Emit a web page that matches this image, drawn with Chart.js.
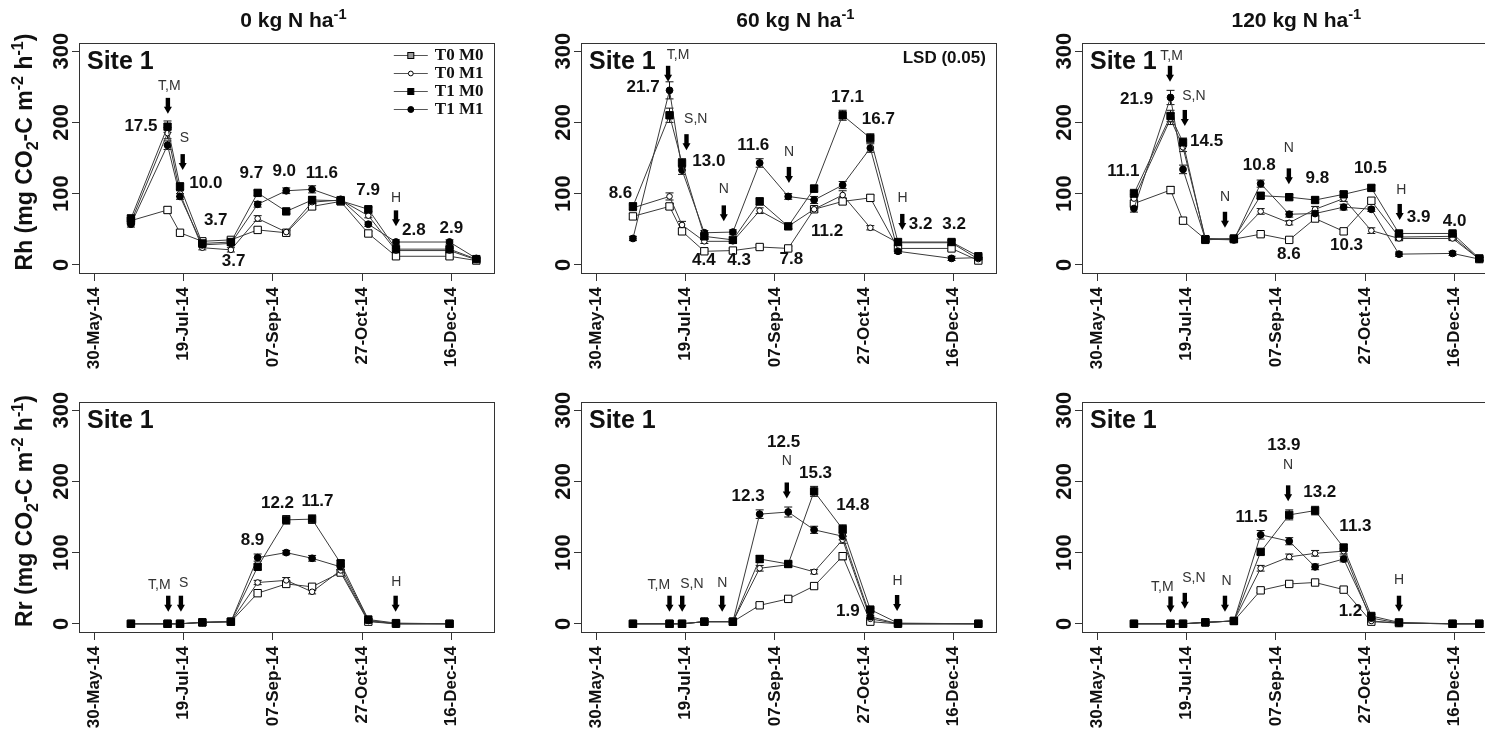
<!DOCTYPE html>
<html>
<head>
<meta charset="utf-8">
<script src="https://cdn.jsdelivr.net/npm/chart.js@4/dist/chart.umd.min.js"></script>
<style>
  html, body { margin: 0; padding: 0; background: #fff; overflow: hidden; width: 1485px; height: 729px; }
  canvas { position: absolute; }
</style>
</head>
<body>
<script>
// Rh / Rr por tratamiento, Site 1, 2014

const dateTicks = [0, 50, 100, 150, 200];
const dateLabels = ['30-May-14', '19-Jul-14', '07-Sep-14', '27-Oct-14', '16-Dec-14'];
const yTicks = [0, 100, 200, 300];
// dias desde 30-May-14
const sampleDays = [20.5, 41, 48, 60.5, 76.5, 91.5, 107.5, 122, 138, 153.5, 169, 199, 214];
const seriesNames = ['T0 M0', 'T0 M1', 'T1 M0', 'T1 M1'];
const rateTitles = ['0 kg N ha', '60 kg N ha', '120 kg N ha'];

// ---- Rh, 0 kg N
const rh0_T0M0 = [62, 77, 45, 33, 35, 49, 45, 82, 89, 44, 12, 12, 6];
const rh0_T0M1 = [60, 185, 100, 24, 21, 65, 46, 88, 91, 69, 20, 20, 7];
const rh0_T1M0 = [65, 194, 110, 30, 32, 101, 75, 91, 90, 78, 22, 22, 8];
const rh0_T1M1 = [57, 168, 96, 28, 30, 85, 104, 106, 92, 57, 32, 32, 9];
const rh0Err = [
  [4, 4, 3, 3, 3, 3, 3, 4, 4, 3, 3, 3, 2],
  [4, 8, 4, 3, 3, 4, 3, 4, 4, 3, 3, 3, 2],
  [5, 8, 5, 3, 3, 4, 3, 5, 4, 3, 3, 3, 2],
  [4, 6, 4, 3, 3, 4, 4, 5, 4, 3, 3, 3, 2]
];
const rh0Notes = [['17.5', 26.1, 194], ['10.0', 62.5, 115], ['3.7', 68, 63], ['3.7', 78, 5], ['9.7', 88, 129],
  ['9.0', 106.4, 131], ['11.6', 127.5, 129], ['7.9', 153.4, 105], ['2.8', 179, 49], ['2.9', 200, 51]];
const rh0Events = [['T,M', 42, 251], ['S', 50.4, 178], ['H', 169, 94]];
const rh0Arrows = [[41.2, 212], [49.5, 133], [169, 54]];

// ---- Rh, 60 kg N
const rh60_T0M0 = [68, 82, 47, 19, 20, 25, 23, 78, 89, 94, 23, 23, 6];
const rh60_T0M1 = [80, 96, 56, 33, 33, 76, 54, 78, 98, 52, 31, 31, 8];
const rh60_T1M0 = [82, 210, 143, 40, 35, 89, 54, 107, 210, 178, 32, 32, 12];
const rh60_T1M1 = [37, 245, 133, 45, 46, 143, 96, 91, 112, 164, 19, 9, 10];
const rh60Err = [
  [4, 4, 4, 3, 3, 3, 3, 4, 4, 4, 3, 3, 2],
  [4, 5, 5, 3, 3, 4, 3, 4, 6, 3, 3, 3, 2],
  [5, 10, 6, 3, 3, 5, 4, 5, 7, 6, 3, 3, 2],
  [3, 12, 6, 3, 3, 6, 4, 5, 5, 6, 3, 3, 2]
];
const rh60Notes = [['8.6', 13.5, 101], ['21.7', 26.2, 249], ['13.0', 63, 145], ['4.4', 60.2, 7], ['4.3', 80, 7],
  ['11.6', 87.9, 168], ['7.8', 109.3, 8], ['11.2', 129.3, 47], ['17.1', 140.7, 235], ['16.7', 158, 204],
  ['3.2', 181.7, 57], ['3.2', 200.4, 57]];
const rh60Events = [['T,M', 45.8, 294], ['S,N', 55.7, 205], ['N', 71.4, 106], ['N', 107.9, 158], ['H', 171.6, 94]];
const rh60Arrows = [[40.2, 257], [50.5, 161], [71.4, 61], [107.9, 115], [171.4, 49]];

// ---- Rh, 120 kg N
const rh120_T0M0 = [86, 105, 62, 36, 36, 43, 35, 65, 47, 90, 39, 40, 8];
const rh120_T0M1 = [93, 205, 165, 37, 36, 75, 59, 78, 93, 48, 37, 37, 8];
const rh120_T1M0 = [100, 209, 172, 35, 37, 97, 95, 91, 99, 108, 44, 44, 9];
const rh120_T1M1 = [79, 235, 134, 36, 35, 114, 71, 72, 81, 78, 15, 16, 8];
const rh120Err = [
  [5, 5, 4, 3, 3, 3, 3, 4, 4, 4, 3, 3, 2],
  [6, 8, 6, 3, 3, 4, 3, 4, 4, 4, 3, 3, 2],
  [6, 8, 6, 3, 3, 4, 4, 4, 4, 4, 3, 3, 2],
  [5, 10, 6, 3, 3, 5, 4, 4, 4, 3, 3, 3, 2]
];
const rh120Notes = [['11.1', 14.6, 131], ['21.9', 22, 233], ['14.5', 61.2, 174], ['10.8', 90.7, 140],
  ['9.8', 123.3, 122], ['8.6', 107.3, 15], ['10.3', 139.6, 28], ['10.5', 153, 136], ['3.9', 180, 67], ['4.0', 200.2, 61]];
const rh120Events = [['T,M', 41.6, 293], ['S,N', 54.1, 237], ['N', 71.5, 95], ['N', 107.3, 164], ['H', 170.3, 105]];
const rh120Arrows = [[40.7, 257], [49, 195], [71.5, 52], [107.3, 113], [169.4, 63]];

// ---- Rr, 0 kg N
const rr0_T0M0 = [0, 0, 0, 2, 3, 43, 56, 52, 72, 3, 0, 0, null];
const rr0_T0M1 = [0, 0, 0, 2, 3, 58, 61, 45, 75, 4, 0, 0, null];
const rr0_T1M0 = [0, 0, 0, 2, 3, 80, 146, 147, 85, 6, 1, 0, null];
const rr0_T1M1 = [0, 0, 0, 2, 3, 93, 100, 92, 80, 5, 0, 0, null];
const rr0Err = [
  [0, 0, 0, 1, 1, 3, 3, 3, 4, 1, 0, 0, 0],
  [0, 0, 0, 1, 1, 3, 4, 3, 4, 1, 0, 0, 0],
  [0, 0, 0, 1, 1, 4, 6, 6, 4, 1, 0, 0, 0],
  [0, 0, 0, 1, 1, 5, 3, 4, 4, 1, 0, 0, 0]
];
const rr0Notes = [['8.9', 88.6, 117], ['12.2', 102.6, 169], ['11.7', 125, 172]];
const rr0Events = [['T,M', 36.4, 54], ['S', 50, 57], ['H', 169.2, 59]];
const rr0Arrows = [[41.4, 17], [48.5, 17], [168.8, 17]];

// ---- Rr, 60 kg N
const rr60_T0M0 = [0, 0, 0, 3, 3, 26, 35, 53, 95, 3, 0, null, 0];
const rr60_T0M1 = [0, 0, 0, 3, 3, 78, 83, 73, 118, 7, 0, null, 0];
const rr60_T1M0 = [0, 0, 0, 3, 3, 91, 84, 186, 133, 20, 1, null, 0];
const rr60_T1M1 = [0, 0, 0, 3, 3, 154, 157, 132, 123, 10, 0, null, 0];
const rr60Err = [
  [0, 0, 0, 1, 1, 3, 3, 3, 5, 1, 0, 0, 0],
  [0, 0, 0, 1, 1, 4, 3, 3, 5, 2, 0, 0, 0],
  [0, 0, 0, 1, 1, 5, 4, 7, 6, 2, 0, 0, 0],
  [0, 0, 0, 1, 1, 6, 7, 5, 5, 2, 0, 0, 0]
];
const rr60Notes = [['12.3', 85, 179], ['12.5', 104.9, 255], ['15.3', 122.8, 211], ['14.8', 143.7, 167], ['1.9', 140.9, 17]];
const rr60Events = [['T,M', 35, 54], ['S,N', 53.5, 56], ['N', 70.5, 57], ['N', 106.7, 228], ['H', 168.8, 60]];
const rr60Arrows = [[41, 17], [48.1, 17], [70.5, 17], [106.7, 176], [168.5, 18]];

// ---- Rr, 120 kg N
const rr120_T0M0 = [0, 0, 0, 2, 4, 47, 56, 58, 48, 3, 1, 0, 0];
const rr120_T0M1 = [0, 0, 0, 2, 4, 78, 94, 99, 102, 4, 1, 0, 0];
const rr120_T1M0 = [0, 0, 0, 2, 4, 101, 153, 159, 107, 11, 2, 0, 0];
const rr120_T1M1 = [0, 0, 0, 2, 4, 125, 116, 80, 91, 8, 1, 0, 0];
const rr120Err = [
  [0, 0, 0, 1, 1, 3, 3, 3, 3, 1, 0, 0, 0],
  [0, 0, 0, 1, 1, 4, 4, 4, 4, 1, 0, 0, 0],
  [0, 0, 0, 1, 1, 4, 7, 6, 5, 2, 0, 0, 0],
  [0, 0, 0, 1, 1, 6, 5, 4, 4, 1, 0, 0, 0]
];
const rr120Notes = [['11.5', 86.4, 149], ['13.9', 104.5, 251], ['13.2', 124.6, 184], ['11.3', 144.6, 137], ['1.2', 141.8, 17]];
const rr120Events = [['T,M', 36.4, 52], ['S,N', 54.1, 64], ['N', 72.4, 60], ['N', 106.9, 223], ['H', 169, 62]];
const rr120Arrows = [[41, 16], [49, 21], [71.5, 17], [106.9, 172], [169, 17]];

// estilos de marcador
const markerStyle = ['rect', 'circle', 'rect', 'circle'];
const markerRadius = [5.2, 2.8, 5.2, 3.4];
const markerFill = ['#ffffff', '#ffffff', '#000000', '#000000'];
const drawOrder = [4, 3, 1, 2]; // T1 M0 queda arriba

const SANS = '"Liberation Sans", Arial, sans-serif';
const SERIF = '"Liberation Serif", "Times New Roman", serif';
const colLeft = [0, 502, 1003];
const rowTop = [0, 359];

const panels = [
  { col: 0, row: 0, rate: 0, yVar: 'Rh', series: [rh0_T0M0, rh0_T0M1, rh0_T1M0, rh0_T1M1], errs: rh0Err, notes: rh0Notes, events: rh0Events, arrows: rh0Arrows, legend: true },
  { col: 1, row: 0, rate: 1, yVar: 'Rh', series: [rh60_T0M0, rh60_T0M1, rh60_T1M0, rh60_T1M1], errs: rh60Err, notes: rh60Notes, events: rh60Events, arrows: rh60Arrows, lsd: true },
  { col: 2, row: 0, rate: 2, yVar: 'Rh', series: [rh120_T0M0, rh120_T0M1, rh120_T1M0, rh120_T1M1], errs: rh120Err, notes: rh120Notes, events: rh120Events, arrows: rh120Arrows },
  { col: 0, row: 1, rate: 0, yVar: 'Rr', series: [rr0_T0M0, rr0_T0M1, rr0_T1M0, rr0_T1M1], errs: rr0Err, notes: rr0Notes, events: rr0Events, arrows: rr0Arrows },
  { col: 1, row: 1, rate: 1, yVar: 'Rr', series: [rr60_T0M0, rr60_T0M1, rr60_T1M0, rr60_T1M1], errs: rr60Err, notes: rr60Notes, events: rr60Events, arrows: rr60Arrows },
  { col: 2, row: 1, rate: 2, yVar: 'Rr', series: [rr120_T0M0, rr120_T0M1, rr120_T1M0, rr120_T1M1], errs: rr120Err, notes: rr120Notes, events: rr120Events, arrows: rr120Arrows }
];

// texto con sub/superindice: partes [texto, 'sub'|'sup'|'']
function richWidth(ctx, parts, size) {
  let w = 0;
  for (const p of parts) {
    ctx.font = 'bold ' + (p[1] ? size * 0.7 : size) + 'px ' + SANS;
    w += ctx.measureText(p[0]).width;
  }
  return w;
}
function drawRich(ctx, parts, x, y, size) {
  for (const p of parts) {
    ctx.font = 'bold ' + (p[1] ? size * 0.7 : size) + 'px ' + SANS;
    const dy = p[1] === 'sub' ? size * 0.25 : (p[1] === 'sup' ? -size * 0.38 : 0);
    ctx.fillText(p[0], x, y + dy);
    x += ctx.measureText(p[0]).width;
  }
}

function legendMarker(ctx, i, x, y) {
  ctx.lineWidth = 1;
  ctx.strokeStyle = '#000';
  if (markerStyle[i] === 'rect') {
    ctx.fillStyle = i === 0 ? '#9a9a9a' : '#000';
    ctx.fillRect(x - 3, y - 3, 6, 6);
    ctx.strokeRect(x - 3, y - 3, 6, 6);
  } else {
    ctx.beginPath();
    ctx.arc(x, y, i === 1 ? 2.4 : 3, 0, Math.PI * 2);
    ctx.fillStyle = i === 1 ? '#fff' : '#000';
    ctx.fill();
    ctx.stroke();
  }
}

const errorBars = {
  id: 'errorBars',
  beforeDatasetsDraw(chart) {
    const ctx = chart.ctx;
    const y = chart.scales.y;
    ctx.save();
    ctx.strokeStyle = '#111';
    ctx.lineWidth = 1;
    chart.data.datasets.forEach((ds, i) => {
      const meta = chart.getDatasetMeta(i);
      ds.data.forEach((pt, j) => {
        const e = ds.errs[j];
        if (pt.y == null || !e) return;
        const px = meta.data[j].x;
        const t = y.getPixelForValue(pt.y + e), b = y.getPixelForValue(pt.y - e);
        ctx.beginPath();
        ctx.moveTo(px, t); ctx.lineTo(px, b);
        ctx.moveTo(px - 4, t); ctx.lineTo(px + 4, t);
        ctx.moveTo(px - 4, b); ctx.lineTo(px + 4, b);
        ctx.stroke();
      });
    });
    ctx.restore();
  }
};

function decoPlugin(p) {
  return {
    id: 'deco',
    afterDraw(chart) {
      const ctx = chart.ctx;
      const ca = chart.chartArea;
      const x = chart.scales.x, y = chart.scales.y;
      ctx.save();
      // caja
      ctx.strokeStyle = '#333';
      ctx.lineWidth = 1;
      ctx.strokeRect(Math.round(ca.left) + 0.5, Math.round(ca.top) + 0.5, Math.round(ca.right - ca.left), Math.round(ca.bottom - ca.top));

      ctx.fillStyle = '#111';
      // etiquetas eje y (verticales)
      ctx.font = 'bold 22px ' + SANS;
      ctx.textAlign = 'center';
      ctx.textBaseline = 'alphabetic';
      y.ticks.forEach(t => {
        ctx.save();
        ctx.translate(ca.left - 11, y.getPixelForValue(t.value));
        ctx.rotate(-Math.PI / 2);
        ctx.fillText(String(t.value), 0, 0);
        ctx.restore();
      });

      // titulo eje y
      if (p.col === 0) {
        const parts = [[p.yVar + ' (mg CO', ''], ['2', 'sub'], ['-C m', ''], ['-2', 'sup'], [' h', ''], ['-1', 'sup'], [')', '']];
        const w = richWidth(ctx, parts, 23);
        ctx.save();
        ctx.translate(32, (ca.top + ca.bottom) / 2 - 6);
        ctx.rotate(-Math.PI / 2);
        ctx.textAlign = 'left';
        drawRich(ctx, parts, -w / 2, 0, 23);
        ctx.restore();
      }

      // titulo del panel
      if (p.row === 0) {
        const parts = [[rateTitles[p.rate], ''], ['-1', 'sup']];
        const w = richWidth(ctx, parts, 21);
        ctx.textAlign = 'left';
        drawRich(ctx, parts, (ca.left + ca.right) / 2 + 7 - w / 2, 27, 21);
      }

      // Site 1
      ctx.textAlign = 'left';
      ctx.font = 'bold 25px ' + SANS;
      ctx.fillText('Site 1', ca.left + 8, y.getPixelForValue(275));

      if (p.lsd) {
        ctx.textAlign = 'right';
        ctx.font = 'bold 17px ' + SANS;
        ctx.fillText('LSD (0.05)', ca.right - 10, ca.top + 20);
      }

      // valores LSD
      ctx.textAlign = 'center';
      ctx.textBaseline = 'middle';
      ctx.font = 'bold 17px ' + SANS;
      p.notes.forEach(n => ctx.fillText(n[0], x.getPixelForValue(n[1]), y.getPixelForValue(n[2])));

      // eventos de manejo
      ctx.fillStyle = '#333';
      ctx.font = '14px ' + SANS;
      p.events.forEach(n => ctx.fillText(n[0], x.getPixelForValue(n[1]), y.getPixelForValue(n[2])));

      // flechas
      ctx.fillStyle = '#000';
      p.arrows.forEach(a => {
        const px = x.getPixelForValue(a[0]);
        const tip = y.getPixelForValue(a[1]);
        ctx.fillRect(px - 2.2, tip - 16, 4.4, 10);
        ctx.beginPath();
        ctx.moveTo(px - 4, tip - 7);
        ctx.lineTo(px + 4, tip - 7);
        ctx.lineTo(px, tip);
        ctx.closePath();
        ctx.fill();
      });

      // leyenda
      if (p.legend) {
        ctx.textAlign = 'left';
        ctx.textBaseline = 'middle';
        ctx.font = 'bold 17px ' + SERIF;
        seriesNames.forEach((name, i) => {
          const ly = ca.top + 12.5 + i * 18;
          ctx.strokeStyle = '#555';
          ctx.lineWidth = 1;
          ctx.beginPath();
          ctx.moveTo(ca.right - 100, ly);
          ctx.lineTo(ca.right - 66, ly);
          ctx.stroke();
          legendMarker(ctx, i, ca.right - 83, ly);
          ctx.fillStyle = '#111';
          ctx.fillText(name, ca.right - 59, ly);
        });
      }
      ctx.restore();
    }
  };
}

function makeChart(p) {
  const cv = document.createElement('canvas');
  const W = 500, H = p.row === 0 ? 400 : 370;
  cv.width = W; cv.height = H;
  cv.style.left = colLeft[p.col] + 'px';
  cv.style.top = rowTop[p.row] + 'px';
  document.body.appendChild(cv);

  const datasets = p.series.map((vals, i) => ({
    label: seriesNames[i],
    data: sampleDays.map((d, j) => ({ x: d, y: vals[j] })),
    errs: p.errs[i],
    order: drawOrder[i],
    borderColor: '#3a3a3a',
    borderWidth: 1,
    pointStyle: markerStyle[i],
    pointRadius: markerRadius[i],
    pointBackgroundColor: markerFill[i],
    pointBorderColor: '#000',
    pointBorderWidth: 1,
    spanGaps: true,
    tension: 0
  }));

  new Chart(cv, {
    type: 'line',
    data: { datasets },
    options: {
      responsive: false,
      animation: false,
      events: [],
      layout: { padding: { left: 0, right: 6, top: 43, bottom: 0 } },
      plugins: { legend: { display: false }, tooltip: { enabled: false } },
      scales: {
        x: {
          type: 'linear',
          min: -8.6,
          max: 223.8,
          afterBuildTicks: s => { s.ticks = dateTicks.map(v => ({ value: v })); },
          afterFit: s => { s.height = H - 273; },
          ticks: {
            autoSkip: false,
            minRotation: 90,
            maxRotation: 90,
            padding: 6,
            color: '#111',
            font: { family: SANS, size: 17, weight: 'bold' },
            callback: v => dateLabels[dateTicks.indexOf(v)]
          },
          grid: { display: true, drawOnChartArea: false, drawTicks: true, tickLength: 8, color: '#333' },
          border: { display: false }
        },
        y: {
          min: -11.5,
          max: 311.5,
          afterBuildTicks: s => { s.ticks = yTicks.map(v => ({ value: v })); },
          afterFit: s => { s.width = 79; },
          ticks: { display: false },
          grid: { display: true, drawOnChartArea: false, drawTicks: true, tickLength: 7, color: '#333' },
          border: { display: false }
        }
      }
    },
    plugins: [errorBars, decoPlugin(p)]
  });
}

panels.forEach(makeChart);
</script>
</body>
</html>
